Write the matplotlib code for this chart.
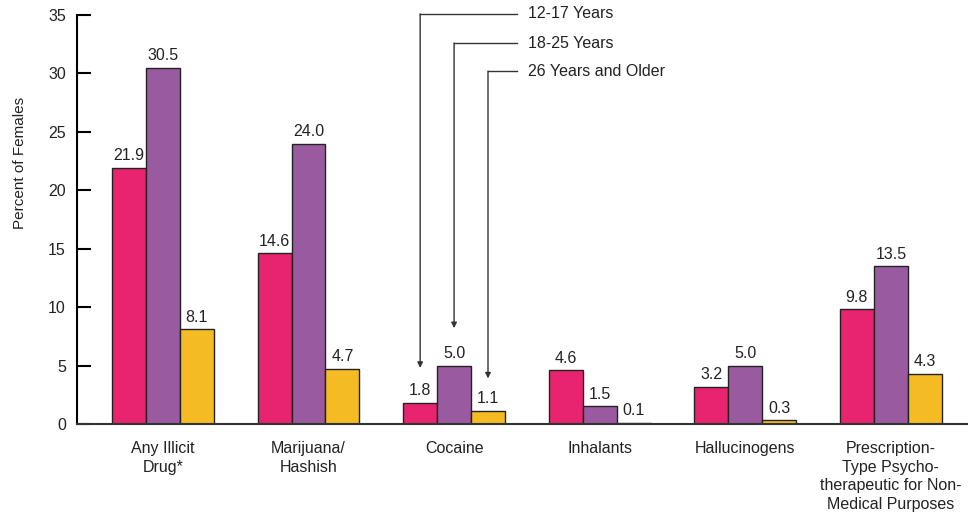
import numpy as np
import matplotlib
matplotlib.use('Agg')
from matplotlib import pyplot as plt

plt.rcParams['font.family'] = ['Liberation Sans', 'DejaVu Sans']

categories = ['Any Illicit\nDrug*', 'Marijuana/\nHashish', 'Cocaine', 'Inhalants',
              'Hallucinogens', 'Prescription-\nType Psycho-\ntherapeutic for Non-\nMedical Purposes']
age_groups = ['12-17 Years', '18-25 Years', '26 Years and Older']
age_12_17 = [21.9, 14.6, 1.8, 4.6, 3.2, 9.8]
age_18_25 = [30.5, 24.0, 5.0, 1.5, 5.0, 13.5]
age_26_up = [8.1, 4.7, 1.1, 0.1, 0.3, 4.3]
yticks = [0, 5, 10, 15, 20, 25, 30, 35]

colors = ['#E8246E', '#9A5A9F', '#F4BC22']
series = [age_12_17, age_18_25, age_26_up]
fs = 11.5

fig = plt.figure(figsize=(9.68, 5.13), dpi=100)
ax = fig.add_axes([77 / 968, 89 / 513, 1 - 77 / 968, 409 / 513])

x = np.arange(len(categories))
w = 0.233
for i, (vals, col) in enumerate(zip(series, colors)):
    pos = x + (i - 1) * w
    ax.bar(pos, vals, width=w, color=col, edgecolor='#222222', linewidth=1.0, zorder=2)
    for p, v in zip(pos, vals):
        ax.text(p, v + 0.4, f'{v:.1f}', ha='center', va='bottom', fontsize=fs, color='#222222')

ax.set_xlim(-0.59, 5.53)
ax.set_ylim(0, 35)
ax.set_yticks(yticks)
ax.set_yticklabels([str(t) for t in yticks], fontsize=fs, color='#222222')
ax.tick_params(axis='y', direction='in', length=10, width=1.5, pad=8)
for t, line in zip(yticks, ax.yaxis.get_ticklines()[::2]):
    line.set_color('black' if t >= 30 else '#5A6E3A')
ax.set_xticks(x)
ax.set_xticklabels(categories, fontsize=fs, color='#222222', linespacing=1.32, va='top')
ax.tick_params(axis='x', length=0, pad=12)

for s in ['top', 'right']:
    ax.spines[s].set_visible(False)
ax.spines['left'].set_linewidth(1.5)
ax.spines['bottom'].set_linewidth(1.5)
ax.spines['bottom'].set_color('#333333')

fig.text(20 / 968, 1 - 163 / 513, 'Percent of Females', rotation=90, ha='center', va='center',
         fontsize=11, color='#222222')

# callout lines pointing to cocaine bars
tops = [35.1, 32.6, 30.2]
tips = [4.8, 8.2, 3.9]
for i, (lab, top, tip) in enumerate(zip(age_groups, tops, tips)):
    bx = x[2] + (i - 1) * w
    ax.plot([bx, 2.43], [top, top], color='#333333', lw=1, clip_on=False)
    ax.annotate('', xy=(bx, tip), xytext=(bx, top),
                arrowprops=dict(arrowstyle='-|>', color='#333333', lw=1, mutation_scale=8,
                                shrinkA=0, shrinkB=0), annotation_clip=False)
    ax.text(2.51, top, lab, ha='left', va='center', fontsize=fs, color='#222222')

plt.savefig('out.png', dpi=100)
